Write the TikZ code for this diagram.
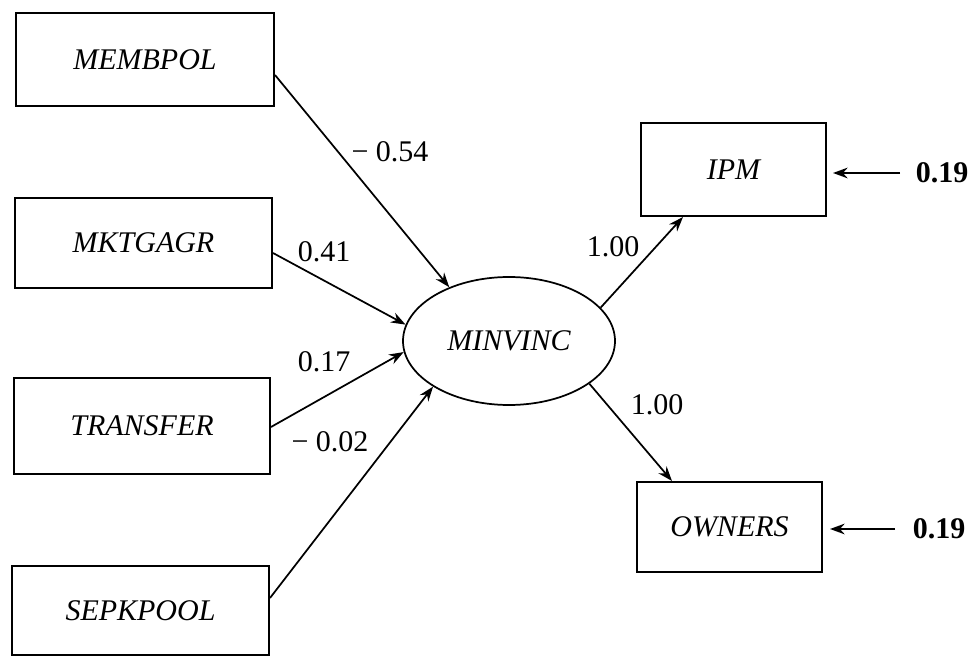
\documentclass[tikz,border=0pt]{standalone}
\usepackage{fontspec}
\setmainfont{Liberation Serif}
\usetikzlibrary{arrows.meta,shapes.geometric}
\begin{document}
\begin{tikzpicture}[x=0.75pt,y=-0.75pt,
  every node/.style={font=\fontsize{22.5}{26}\selectfont, inner sep=0pt},
  varbox/.style={draw, line width=1.5pt, font=\fontsize{22.5}{26}\selectfont\itshape},
  latent/.style={draw, ellipse, line width=1.3pt, minimum width=212*0.75pt, minimum height=128*0.75pt, font=\fontsize{22.5}{26}\selectfont\itshape},
  path/.style={line width=1.3pt, -{Stealth[length=11pt,width=8pt]}},
  coef/.style={anchor=center}
]
\useasboundingbox (0,0) rectangle (972,659);

\node[varbox, minimum width=258*0.75pt, minimum height=93*0.75pt] (m) at (145,59.5) {MEMBPOL};
\node[varbox, minimum width=257*0.75pt, minimum height=90*0.75pt] (k) at (143.5,243) {MKTGAGR};
\node[varbox, minimum width=256*0.75pt, minimum height=96*0.75pt] (t) at (142,426) {TRANSFER};
\node[varbox, minimum width=257*0.75pt, minimum height=89*0.75pt] (s) at (140.5,610.5) {SEPKPOOL};

\node[latent] (e) at (509,341) {MINVINC};

\node[varbox, minimum width=185*0.75pt, minimum height=93*0.75pt] (ipm) at (733.5,169.5) {IPM};
\node[varbox, minimum width=185*0.75pt, minimum height=90*0.75pt] (own) at (729.5,527) {OWNERS};

\draw[path] (m.east |- 0,75) -- (e.138.7);
\draw[path] (k.east |- 0,253) -- (e.171.5);
\draw[path] (t.east |- 0,427) -- (e.186.4);
\draw[path] (s.east |- 0,598) -- (e.211.2);
\draw[path] (e.20.5) -- (683,0 |- ipm.south);
\draw[path] (e.-28.5) -- (672,0 |- own.north);

\node[coef] (c1) at (390,152) {−~0.54};
\node[coef] (c2) at (324,252) {0.41};
\node[coef] (c3) at (324,362) {0.17};
\node[coef] (c4) at (330,442) {−~0.02};
\node[coef] (c5) at (613,247) {1.00};
\node[coef] (c6) at (657,405) {1.00};

\node[coef, font=\fontsize{22.5}{26}\selectfont\bfseries] (r1) at (942,173) {0.19};
\node[coef, font=\fontsize{22.5}{26}\selectfont\bfseries] (r2) at (939,529) {0.19};
\draw[path] (900,0 |- r1.center) -- (833,0 |- r1.center);
\draw[path] (895,0 |- r2.center) -- (830,0 |- r2.center);
\end{tikzpicture}
\end{document}
